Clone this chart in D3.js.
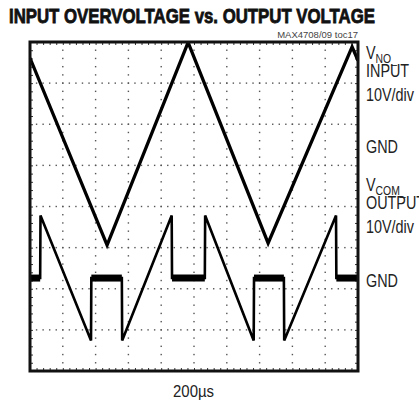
<!DOCTYPE html>
<html>
<head>
<meta charset="utf-8">
<script src="https://cdn.jsdelivr.net/npm/d3@7/dist/d3.min.js"></script>
<style>
  html, body { margin: 0; padding: 0; background: #fff; }
  svg { display: block; }
  text { font-family: "Liberation Sans Narrow", "Liberation Sans", Arial, sans-serif; fill: #222; }
</style>
</head>
<body>
<div id="chart"></div>
<script>
// scope traces, time in divisions (200us/div), volts (10V/div)
const inputTime  = [0, 2.35, 4.82, 7.26, 9.82, 10];
const inputVolts = [21.4, -24.1, 25.2, -23.6, 24.1, 20.8];

const outputTime  = [0, 0.31, 0.32, 1.86, 1.87, 2.80, 2.81, 4.32, 4.33, 5.33, 5.34, 6.82, 6.83, 7.74, 7.75, 9.33, 9.34, 10];
const outputVolts = [0, 0, 15.2, -15.2, 0, 0, -15.2, 15.2, 0, 0, 15.2, -15.2, 0, 0, -15.2, 15.2, 0, 0];

// channel ground positions, divisions from screen centre
const inputGnd = 1.47;
const outputGnd = -1.74;

const title = 'INPUT OVERVOLTAGE vs. OUTPUT VOLTAGE';
const figId = 'MAX4708/09 toc17';
const timeLabel = '200\u00b5s';

const W = 419, H = 405;
const plot = { left: 30, right: 358, top: 42, bottom: 371 };

const svg = d3.select('#chart').append('svg')
  .attr('width', W)
  .attr('height', H);

const x = d3.scaleLinear().domain([0, 10]).range([plot.left, plot.right]);
const yDiv = d3.scaleLinear().domain([-4, 4]).range([plot.bottom, plot.top]);
const y1 = d3.scaleLinear().domain([(-4 - inputGnd) * 10, (4 - inputGnd) * 10]).range([plot.bottom, plot.top]);
const y2 = d3.scaleLinear().domain([(-4 - outputGnd) * 10, (4 - outputGnd) * 10]).range([plot.bottom, plot.top]);

// graticule dots
const grid = svg.append('g').attr('class', 'grid');
const xMinor = d3.range(0, 51).map(i => i / 5);
const yMinor = d3.range(0, 41).map(i => -4 + i / 5);
d3.range(1, 10).forEach(i => {
  grid.selectAll(null).data(yMinor).enter().append('rect')
    .attr('x', x(i) - 0.7).attr('y', d => yDiv(d) - 0.7)
    .attr('width', 1.4).attr('height', 1.4).attr('fill', '#555');
});
d3.range(-3, 4).forEach(j => {
  grid.selectAll(null).data(xMinor).enter().append('rect')
    .attr('x', d => x(d) - 0.7).attr('y', yDiv(j) - 0.7)
    .attr('width', 1.4).attr('height', 1.4).attr('fill', '#555');
});

// border ticks
const tickOpts = ax => ax.tickSize(-3).tickFormat('').tickSizeOuter(0);
svg.append('g').attr('transform', `translate(0,${plot.bottom})`)
  .call(tickOpts(d3.axisBottom(x)).tickValues(xMinor));
svg.append('g').attr('transform', `translate(0,${plot.top})`)
  .call(tickOpts(d3.axisTop(x)).tickValues(xMinor));
svg.append('g').attr('transform', `translate(${plot.left},0)`)
  .call(tickOpts(d3.axisLeft(yDiv)).tickValues(yMinor));
svg.append('g').attr('transform', `translate(${plot.right},0)`)
  .call(tickOpts(d3.axisRight(yDiv)).tickValues(yMinor));
svg.selectAll('.domain').remove();
svg.selectAll('.tick line').attr('stroke', '#333').attr('stroke-width', 1);

// traces
svg.append('clipPath').attr('id', 'screen')
  .append('rect')
  .attr('x', plot.left).attr('y', plot.top)
  .attr('width', plot.right - plot.left).attr('height', plot.bottom - plot.top);

const traces = svg.append('g').attr('clip-path', 'url(#screen)');

const inputLine = d3.line().x((d, i) => x(inputTime[i])).y(d => y1(d));
traces.append('path')
  .attr('d', inputLine(inputVolts))
  .attr('fill', 'none').attr('stroke', '#000')
  .attr('stroke-width', 3.3).attr('stroke-linejoin', 'miter');

const outputLine = d3.line().x((d, i) => x(outputTime[i])).y(d => y2(d));
traces.append('path')
  .attr('d', outputLine(outputVolts))
  .attr('fill', 'none').attr('stroke', '#000')
  .attr('stroke-width', 2.6).attr('stroke-linejoin', 'miter');

// noisy ground segments of the output look thicker
const flats = [];
for (let i = 0; i < outputVolts.length - 1; i++) {
  if (outputVolts[i] === 0 && outputVolts[i + 1] === 0) flats.push([outputTime[i], outputTime[i + 1]]);
}
traces.selectAll('.flat').data(flats).enter().append('line')
  .attr('class', 'flat')
  .attr('x1', d => x(d[0])).attr('x2', d => x(d[1]))
  .attr('y1', y2(0)).attr('y2', y2(0))
  .attr('stroke', '#000').attr('stroke-width', 7);

// frame
svg.append('rect')
  .attr('x', plot.left).attr('y', plot.top)
  .attr('width', plot.right - plot.left).attr('height', plot.bottom - plot.top)
  .attr('fill', 'none').attr('stroke', '#111').attr('stroke-width', 3);

// title
svg.append('text')
  .attr('x', 9).attr('y', 23)
  .attr('font-size', 20).attr('font-weight', 'bold')
  .attr('textLength', 366).attr('lengthAdjust', 'spacingAndGlyphs')
  .style('fill', '#111').style('stroke', '#111').style('stroke-width', 0.8)
  .text(title);

svg.append('text')
  .attr('x', plot.right).attr('y', 38)
  .attr('text-anchor', 'end').attr('font-size', 9.5)
  .style('fill', '#444')
  .text(figId);

// channel labels
function label(yBase, lines, gndY) {
  const g = svg.append('g').attr('transform', 'translate(366,0) scale(0.8,1)');
  const t = g.append('text').attr('x', 0).attr('y', yBase[0]).attr('font-size', 18);
  t.append('tspan').text('V');
  t.append('tspan').attr('font-size', 13).attr('dy', 4).text(lines[0]);
  g.append('text').attr('x', 0).attr('y', yBase[1]).attr('font-size', 18).text(lines[1]);
  g.append('text').attr('x', 0).attr('y', yBase[2]).attr('font-size', 18).text('10V/div');
  g.append('text').attr('x', 0).attr('y', gndY + 7).attr('font-size', 18).text('GND');
}
label([59, 77, 101], ['NO_', 'INPUT'], y1(0));
label([191, 209, 233], ['COM_', 'OUTPUT'], y2(0) + 2);

svg.append('text')
  .attr('x', 0).attr('y', 397)
  .attr('font-size', 17)
  .attr('transform', 'translate(173,0) scale(0.88,1)')
  .text(timeLabel);
</script>
</body>
</html>
